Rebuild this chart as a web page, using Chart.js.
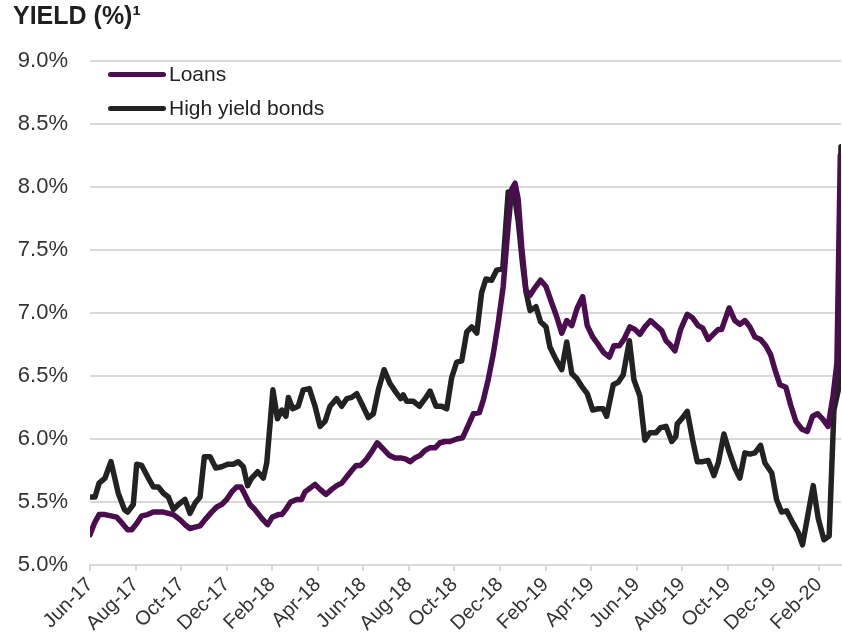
<!DOCTYPE html>
<html>
<head>
<meta charset="utf-8">
<script src="https://cdn.jsdelivr.net/npm/chart.js@4.4.1/dist/chart.umd.min.js"></script>
<style>
  html, body { margin: 0; padding: 0; background: #fff; }
  #wrap { position: relative; width: 842px; height: 641px; }
  #yield { position: absolute; left: 0; top: 0; }
  #title {
    position: absolute; left: 13px; top: 3px;
    font: bold 25px "Liberation Sans", Arial, sans-serif; line-height: 25px;
    color: #1f1f1f;
  }
  .key {
    position: absolute; left: 108px;
    font: 21px "Liberation Sans", Arial, sans-serif; color: #222;
    display: flex; align-items: center; height: 24px;
  }
  .key i { display: inline-block; width: 58px; height: 5px; border-radius: 3px; margin-right: 3px; }
</style>
</head>
<body>
<div id="wrap">
  <canvas id="yield" width="842" height="641"></canvas>
  <div id="title">YIELD (%)¹</div>
  <div class="key" style="top:62px"><i style="background:#4a0e4e"></i>Loans</div>
  <div class="key" style="top:96px"><i style="background:#222222"></i>High yield bonds</div>
</div>
<script>
"use strict";

// x is months since the start of Jun-17; a tick every two months
const MONTH_LABELS = ["Jun-17", "Aug-17", "Oct-17", "Dec-17", "Feb-18", "Apr-18", "Jun-18", "Aug-18",
  "Oct-18", "Dec-18", "Feb-19", "Apr-19", "Jun-19", "Aug-19", "Oct-19", "Dec-19", "Feb-20"];

const LOAN_MONTH = [0.00, 0.19, 0.40, 0.66, 0.92, 1.17, 1.42, 1.65, 1.83, 2.05, 2.27, 2.53, 2.78, 3.00, 3.22,
  3.44, 3.66, 3.95, 4.17, 4.39, 4.61, 4.83, 5.05, 5.34, 5.56, 5.78, 6.00, 6.22, 6.44, 6.63, 6.80, 7.02, 7.24,
  7.54, 7.80, 8.00, 8.27, 8.42, 8.63, 8.81, 9.07, 9.29, 9.44, 9.66, 9.88, 10.10, 10.36, 10.61, 10.83, 11.05,
  11.27, 11.49, 11.68, 11.88, 12.14, 12.37, 12.61, 12.88, 13.14, 13.39, 13.64, 13.87, 14.05, 14.27, 14.49,
  14.71, 14.93, 15.15, 15.36, 15.58, 15.80, 16.10, 16.36, 16.61, 16.83, 17.09, 17.27, 17.48, 17.70, 17.92,
  18.14, 18.32, 18.51, 18.66, 18.80, 18.95, 19.14, 19.32, 19.53, 19.78, 20.02, 20.27, 20.49, 20.71, 20.93,
  21.15, 21.39, 21.63, 21.83, 22.07, 22.31, 22.53, 22.80, 23.00, 23.24, 23.44, 23.70, 23.92, 24.14, 24.36,
  24.61, 24.85, 25.10, 25.29, 25.46, 25.68, 25.93, 26.22, 26.46, 26.70, 26.90, 27.14, 27.36, 27.58, 27.73,
  28.06, 28.31, 28.53, 28.75, 28.97, 29.19, 29.44, 29.67, 29.88, 30.07, 30.29, 30.55, 30.76, 30.99, 31.24,
  31.49, 31.72, 31.94, 32.16, 32.40, 32.62, 32.79, 32.94];
const LOAN_YIELD = [5.24, 5.33, 5.40, 5.40, 5.39, 5.38, 5.33, 5.28, 5.28, 5.33, 5.39, 5.40, 5.42, 5.42, 5.42,
  5.41, 5.40, 5.36, 5.32, 5.29, 5.30, 5.31, 5.36, 5.42, 5.46, 5.48, 5.52, 5.58, 5.62, 5.62, 5.56, 5.48, 5.44,
  5.37, 5.32, 5.38, 5.40, 5.40, 5.45, 5.50, 5.52, 5.52, 5.58, 5.61, 5.64, 5.60, 5.56, 5.60, 5.63, 5.65,
  5.70, 5.75, 5.79, 5.79, 5.84, 5.90, 5.97, 5.92, 5.87, 5.85, 5.85, 5.84, 5.82, 5.85, 5.87,
  5.91, 5.93, 5.93, 5.97, 5.98, 5.98, 6.00, 6.01, 6.11, 6.20, 6.21, 6.31, 6.47, 6.67, 6.92,
  7.21, 7.61, 7.98, 8.03, 7.90, 7.53, 7.18, 7.14, 7.20, 7.26, 7.21, 7.08, 6.97, 6.84, 6.94,
  6.90, 7.04, 7.13, 6.90, 6.81, 6.75, 6.69, 6.65, 6.74, 6.74, 6.79, 6.89, 6.87, 6.83, 6.89,
  6.94, 6.90, 6.86, 6.78, 6.75, 6.70, 6.87, 6.99, 6.96, 6.90, 6.88, 6.79, 6.83, 6.87, 6.87,
  7.04, 6.94, 6.91, 6.94, 6.89, 6.81, 6.79, 6.74, 6.67, 6.55, 6.43, 6.41, 6.27, 6.14, 6.08,
  6.06, 6.18, 6.20, 6.16, 6.10, 6.34, 6.60, 8.25];

const HY_MONTH = [0.00, 0.22, 0.40, 0.66, 0.92, 1.24, 1.51, 1.65, 1.90, 2.05, 2.27, 2.56, 2.78, 3.00, 3.22,
  3.44, 3.66, 3.88, 4.17, 4.39, 4.61, 4.83, 5.02, 5.27, 5.52, 5.78, 6.04, 6.29, 6.51, 6.73, 6.92, 7.10, 7.36,
  7.61, 7.76, 8.03, 8.23, 8.42, 8.60, 8.71, 8.90, 9.14, 9.36, 9.63, 9.88, 10.10, 10.32, 10.54, 10.83, 11.05,
  11.27, 11.49, 11.71, 11.93, 12.22, 12.44, 12.66, 12.91, 13.17, 13.43, 13.64, 13.75, 13.90, 14.19, 14.46,
  14.71, 14.93, 15.19, 15.44, 15.66, 15.88, 16.10, 16.32, 16.54, 16.76, 16.98, 17.19, 17.38, 17.63, 17.85,
  18.12, 18.36, 18.61, 18.80, 18.99, 19.14, 19.32, 19.58, 19.78, 20.02, 20.19, 20.46, 20.71, 20.93, 21.15,
  21.37, 21.58, 21.83, 22.07, 22.31, 22.53, 22.68, 22.97, 23.19, 23.41, 23.68, 23.88, 24.14, 24.36, 24.58,
  24.85, 25.05, 25.29, 25.54, 25.72, 25.78, 26.02, 26.22, 26.46, 26.66, 26.90, 27.14, 27.39, 27.58, 27.83,
  28.06, 28.31, 28.53, 28.75, 28.97, 29.19, 29.44, 29.63, 29.93, 30.14, 30.36, 30.58, 30.87, 31.09, 31.28,
  31.53, 31.75, 31.97, 32.22, 32.45, 32.66, 32.89, 32.97];
const HY_YIELD = [5.54, 5.54, 5.65, 5.69, 5.82, 5.57, 5.44, 5.42, 5.48, 5.80, 5.79, 5.69, 5.62, 5.62, 5.57,
  5.54, 5.44, 5.48, 5.52, 5.41, 5.49, 5.54, 5.86, 5.86, 5.77, 5.78, 5.80, 5.80, 5.82, 5.78, 5.63, 5.69, 5.74,
  5.69, 5.81, 6.39, 6.16, 6.23, 6.18, 6.33, 6.24, 6.26, 6.39, 6.40, 6.26, 6.10, 6.14, 6.26, 6.32, 6.26,
  6.32, 6.33, 6.36, 6.28, 6.17, 6.20, 6.39, 6.55, 6.44, 6.37, 6.32, 6.35, 6.30, 6.30, 6.26,
  6.32, 6.38, 6.26, 6.26, 6.24, 6.49, 6.61, 6.62, 6.85, 6.89, 6.84, 7.16, 7.27, 7.26, 7.34,
  7.35, 7.96, 7.96, 7.73, 7.39, 7.17, 7.02, 7.05, 6.93, 6.89, 6.73, 6.63, 6.55, 6.77, 6.52,
  6.48, 6.42, 6.36, 6.23, 6.24, 6.24, 6.18, 6.43, 6.45, 6.51, 6.78, 6.47, 6.34, 5.99, 6.05,
  6.05, 6.09, 6.10, 5.98, 6.02, 6.12, 6.17, 6.22, 5.99, 5.82, 5.82, 5.83, 5.71, 5.81, 6.04,
  5.90, 5.77, 5.69, 5.89, 5.88, 5.89, 5.95, 5.81, 5.73, 5.52, 5.42, 5.43, 5.33, 5.26, 5.16,
  5.41, 5.63, 5.37, 5.20, 5.23, 6.23, 6.42, 8.32];

const FONT = '"Liberation Sans", Arial, sans-serif';
const GRID = "#d9d9d9";

function points(xs, ys) {
  return xs.map((x, i) => ({ x, y: ys[i] }));
}

function series(label, data, color) {
  return {
    label, data, borderColor: color, backgroundColor: color, borderWidth: 5.5,
    pointRadius: 0, tension: 0, borderJoinStyle: "round", borderCapStyle: "round",
  };
}

new Chart(document.getElementById("yield"), {
  type: "line",
  data: {
    datasets: [
      series("Loans", points(LOAN_MONTH, LOAN_YIELD), "#4a0e4e"),
      series("High yield bonds", points(HY_MONTH, HY_YIELD), "#222222"),
    ],
  },
  options: {
    responsive: false,
    animation: false,
    layout: { padding: { top: 61, right: 1, left: 0, bottom: 0 } },
    plugins: { legend: { display: false }, tooltip: { enabled: false } },
    scales: {
      x: {
        type: "linear",
        min: 0,
        max: 32.97,
        afterBuildTicks: (s) => { s.ticks = MONTH_LABELS.map((_, i) => ({ value: i * 2 })); },
        afterFit: (s) => { s.height = 76; },
        grid: { drawOnChartArea: false, drawTicks: true, tickLength: 6, color: GRID, lineWidth: 2 },
        border: { display: true, color: GRID, width: 2 },
        ticks: {
          autoSkip: false, minRotation: 45, maxRotation: 45, padding: 2,
          color: "#333", font: { family: FONT, size: 20 },
          callback: (v) => MONTH_LABELS[v / 2],
        },
      },
      y: {
        min: 5,
        max: 9,
        afterFit: (s) => { s.width = 90; },
        grid: { color: GRID, lineWidth: 2, drawTicks: false },
        border: { display: false },
        ticks: {
          stepSize: 0.5, padding: 22, color: "#333", font: { family: FONT, size: 22 },
          callback: (v) => v.toFixed(1) + "%",
        },
      },
    },
  },
});
</script>
</body>
</html>
